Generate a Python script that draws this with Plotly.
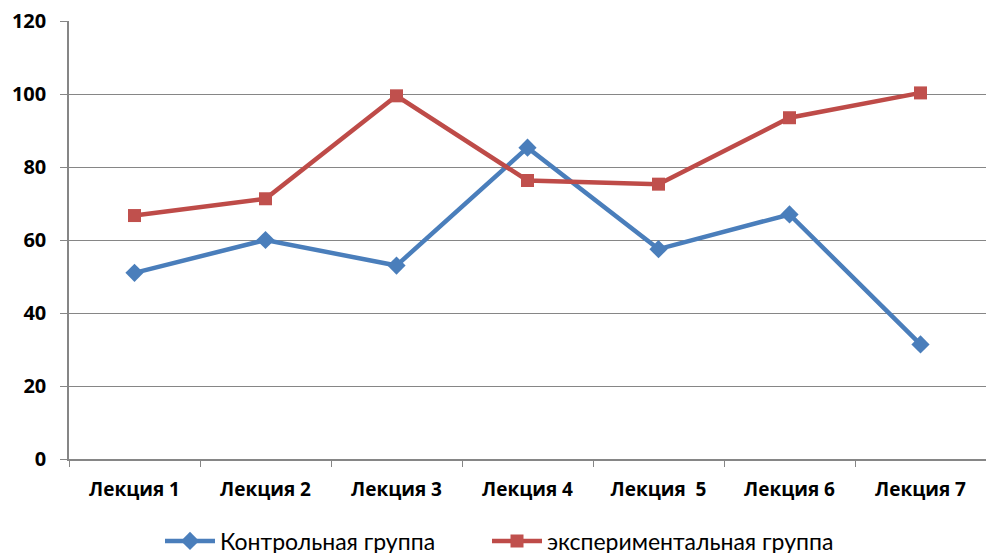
import plotly.graph_objects as go

categories = ["Лекция 1", "Лекция 2", "Лекция 3", "Лекция 4", "Лекция\u00a0 5", "Лекция 6", "Лекция 7"]
control = [51, 60, 53, 85.3, 57.5, 67, 31.4]
experimental = [66.7, 71.3, 99.5, 76.3, 75.3, 93.5, 100.3]
series_names = ["Контрольная группа", "экспериментальная группа"]
y_ticks = [0, 20, 40, 60, 80, 100, 120]

fig = go.Figure()
fig.add_trace(go.Scatter(
    x=categories, y=control, name=series_names[0], mode="lines+markers",
    line=dict(color="#4A7EBB", width=4.5),
    marker=dict(symbol="diamond", size=14, color="#4A7EBB"),
    legend="legend",
))
fig.add_trace(go.Scatter(
    x=categories, y=experimental, name=series_names[1], mode="lines+markers",
    line=dict(color="#BE4B48", width=4.5),
    marker=dict(symbol="square", size=13, color="#C0504D"),
    legend="legend2",
))

legend_common = dict(orientation="h", xanchor="left", xref="container",
                     y=1 - 541 / 553, yanchor="middle", yref="container",
                     font=dict(size=23, family="Lato, sans-serif"), itemwidth=50,
                     bgcolor="rgba(0,0,0,0)")

fig.update_layout(
    width=986, height=553,
    margin=dict(l=69, r=0, t=21, b=94, autoexpand=False),
    plot_bgcolor="white", paper_bgcolor="white",
    font=dict(family="Open Sans, sans-serif", color="#000000"),
    showlegend=True,
    legend=dict(x=160 / 986, **legend_common),
    legend2=dict(x=487 / 986, **legend_common),
    xaxis=dict(
        type="category", tickson="boundaries", ticks="outside", ticklen=6,
        tickcolor="#868686", showline=True, linecolor="#868686", linewidth=1.5,
        showgrid=False, automargin=False, ticklabelstandoff=12,
        tickfont=dict(size=19, family="Open Sans, sans-serif", weight=700),
        range=[-0.5, 6.5],
    ),
    yaxis=dict(
        range=[0, 120], tickvals=y_ticks, ticks="outside", ticklen=7,
        tickcolor="#868686", showline=True, linecolor="#868686", linewidth=1.5,
        showgrid=True, gridcolor="#868686", gridwidth=1.2, zeroline=False,
        automargin=False, ticklabelstandoff=10,
        tickfont=dict(size=20, family="Open Sans, sans-serif", weight=700),
    ),
)

fig.write_html("out.html", config={"displayModeBar": False},
               post_script="document.body.style.margin='0';")
